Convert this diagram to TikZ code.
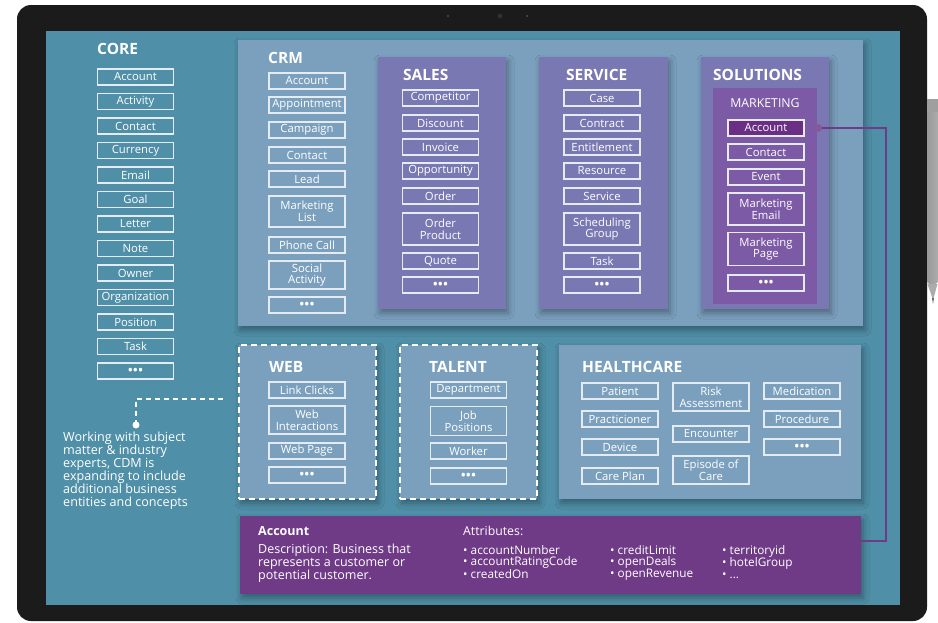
\documentclass[tikz,border=0pt]{standalone}
\usepackage{fontspec}
\setmainfont{Open Sans}
\usetikzlibrary{shadows.blur}
\definecolor{bezel}{HTML}{1B1B1B}
\definecolor{screen}{HTML}{4F8FA7}
\definecolor{panelblue}{HTML}{7BA0BE}
\definecolor{panelpurple}{HTML}{7A78B2}
\definecolor{mktpurple}{HTML}{7C5AA6}
\definecolor{acchl}{HTML}{6A2E84}
\definecolor{accpanel}{HTML}{6F3B87}
\definecolor{connline}{HTML}{6E3B8B}
\definecolor{boxline}{HTML}{E4EBF2}
\newcommand{\mydots}{{\fontsize{12}{12}\selectfont\bfseries •\hspace{0.6pt}•\hspace{0.6pt}•}}
\begin{document}
\begin{tikzpicture}[x=1pt,y=-1pt,
  ebox/.style={draw=boxline, line width=1.1pt, text=white, minimum width=76pt, minimum height=16pt,
    inner sep=0pt, align=center, font=\fontsize{11.3}{11.8}\selectfont},
  ttl/.style={anchor=west, text=white, inner sep=0pt, font=\bfseries\fontsize{15.5}{15.5}\selectfont},
  shd/.style={blur shadow={shadow xshift=2pt, shadow yshift=-4pt, shadow blur radius=6pt, shadow opacity=35}},
  panelL/.style={fill=panelblue, inner sep=0pt, shd},
  panelP/.style={fill=panelpurple, inner sep=0pt, shd},
  paneldash/.style={fill=panelblue, draw=white, line width=1.5pt, dash pattern=on 6pt off 4pt, inner sep=0pt, shd},
  conn/.style={draw=connline, line width=1.3pt},
  txt/.style={text=white, inner sep=0pt, align=left},
]
\useasboundingbox (0,0) rectangle (938,622);
\fill[white] (0,0) rectangle (938,622);
% device
\fill[bezel, rounded corners=14pt] (17,5) rectangle (927,621);
\fill[black!70] (448,16) circle (1.2pt);
\fill[black!80] (500,16) circle (2.2pt);
\fill[black!65] (527,16) circle (1pt);
\fill[screen] (46,31) rectangle (900,605);
% pen
\shade[left color=gray!80, middle color=gray!35, right color=gray!65, rounded corners=3pt] (927,99) rectangle (938,284);
\fill[gray!75] (927,99) rectangle (938,112);
\fill[gray!65] (927.5,284) -- (937.5,284) -- (933,300) -- cycle;
\fill[black!60] (932,298) -- (934,298) -- (933,304) -- cycle;

% CORE
\node[ttl] (coreT) at (97,49) {CORE};
\foreach \t [count=\i] in {Account,Activity,Contact,Currency,Email,Goal,Letter,Note,Owner,Organization,Position,Task,\mydots}
  \node[ebox] (core\i) at (135.5,{77+24.5*(\i-1)}) {\t};

% CRM panel
\node[panelL, minimum width=625pt, minimum height=286pt] (crm) at (550.5,183) {};
\node[ttl] (crmT) at (268,58) {CRM};
\foreach \t/\y/\h [count=\i] in {Account/81/16,Appointment/105/16,Campaign/130/16,Contact/155/16,Lead/179/16,{Marketing\\List}/211.5/31,{Phone Call}/245/16,{Social\\Activity}/275/28,\mydots/305/16}
  \node[ebox, minimum height=\h pt] (crmb\i) at (307,\y) {\t};

% SALES
\node[panelP, minimum width=128pt, minimum height=252pt] (sales) at (442,183) {};
\node[ttl] (salesT) at (403,75) {SALES};
\foreach \t/\y/\h [count=\i] in {Competitor/98/16,Discount/123/16,Invoice/147/16,Opportunity/171/16,Order/196/16,{Order\\Product}/229/32,Quote/261/16,\mydots/285/16}
  \node[ebox, minimum height=\h pt] (salesb\i) at (440.5,\y) {\t};

% SERVICE
\node[panelP, minimum width=129pt, minimum height=252pt] (service) at (603.5,183) {};
\node[ttl] (serviceT) at (566,75) {SERVICE};
\foreach \t/\y/\h [count=\i] in {Case/98/16,Contract/123/16,Entitlement/147/16,Resource/171/16,Service/196/16,{Scheduling\\Group}/229/32,Task/261/16,\mydots/285/16}
  \node[ebox, minimum height=\h pt] (serviceb\i) at (602,\y) {\t};

% SOLUTIONS
\node[panelP, minimum width=128pt, minimum height=252pt] (solutions) at (765,183) {};
\node[ttl] (solutionsT) at (713,75) {SOLUTIONS};
\node[fill=mktpurple, inner sep=0pt, minimum width=104pt, minimum height=216pt] (marketing) at (765,196) {};
\node[txt, font=\fontsize{12.3}{12.3}\selectfont] (marketingT) at (765,103) {MARKETING};
\node[ebox, fill=acchl] (mktb1) at (766,128) {Account};
\foreach \t/\y/\h [count=\i from 2] in {Contact/152/16,Event/177/16,{Marketing\\Email}/209/32,{Marketing\\Page}/249/33,\mydots/283/16}
  \node[ebox, minimum height=\h pt] (mktb\i) at (766,\y) {\t};

% WEB
\node[paneldash, minimum width=137pt, minimum height=154pt] (web) at (307.5,422) {};
\node[ttl] (webT) at (269,367) {WEB};
\foreach \t/\y/\h [count=\i] in {{Link Clicks}/390/16,{Web\\Interactions}/420/28,{Web Page}/451/16,\mydots/475/16}
  \node[ebox, minimum height=\h pt] (webb\i) at (307,\y) {\t};

% TALENT
\node[paneldash, minimum width=137pt, minimum height=154pt] (talent) at (468.5,422) {};
\node[ttl] (talentT) at (429,367) {TALENT};
\foreach \t/\y/\h [count=\i] in {Department/390/16,{Job\\Positions}/421/29,Worker/451/16,\mydots/476/16}
  \node[ebox, minimum height=\h pt] (talentb\i) at (468.5,\y) {\t};

% HEALTHCARE
\node[panelL, minimum width=302pt, minimum height=154pt] (health) at (710,422) {};
\node[ttl] (healthT) at (582,367) {HEALTHCARE};
\foreach \t/\y/\h [count=\i] in {Patient/391/16,Practicioner/419/16,Device/447/16,{Care Plan}/476/16}
  \node[ebox, minimum height=\h pt] (hca\i) at (620,\y) {\t};
\foreach \t/\y/\h [count=\i] in {{Risk\\Assessment}/397/28,Encounter/434/16,{Episode of\\Care}/470/28}
  \node[ebox, minimum height=\h pt] (hcb\i) at (711,\y) {\t};
\foreach \t/\y/\h [count=\i] in {Medication/391/16,Procedure/419/16,\mydots/447/16}
  \node[ebox, minimum height=\h pt] (hcc\i) at (802,\y) {\t};

% Account detail panel
\node[fill=accpanel, inner sep=0pt, minimum width=621pt, minimum height=78pt, shd] (acct) at (550.5,555) {};
\node[txt, anchor=west, font=\bfseries\fontsize{12.5}{12.5}\selectfont] (acctT) at (258,531) {Account};
\node[txt, anchor=west, font=\fontsize{12.3}{12.3}\selectfont] (attrT) at (463,531) {Attributes:};
\node[txt, anchor=north west, font=\fontsize{12.5}{13}\selectfont] (desc) at (258,543.5) {Description: Business that\\represents a customer or\\potential customer.};
\node[txt, anchor=north west, font=\fontsize{11.8}{11.7}\selectfont] (attr1) at (463,545) {• accountNumber\\• accountRatingCode\\• createdOn};
\node[txt, anchor=north west, font=\fontsize{11.8}{11.7}\selectfont] (attr2) at (610,545) {• creditLimit\\• openDeals\\• openRevenue};
\node[txt, anchor=north west, font=\fontsize{11.8}{11.7}\selectfont] (attr3) at (722,545) {• territoryid\\• hotelGroup\\• ...};

% connector from marketing account to detail panel
\coordinate (cdot) at (818,128);
\coordinate (cbend) at (886,541);
\draw[conn] (cdot) -| (cbend) -- (acct.east |- cbend);
\fill[connline!85!white] (cdot) circle (4pt);

% note
\coordinate (wstart) at (223,399);
\coordinate (wdot) at (136,425);
\draw[white, line width=1.5pt, dash pattern=on 5pt off 4pt] (wstart) -| (wdot);
\fill[white] (wdot) circle (3.5pt);
\node[txt, anchor=north west, font=\fontsize{12.6}{13}\selectfont] (note) at (63,432) {Working with subject\\matter \& industry\\experts, CDM is\\expanding to include\\additional business\\entities and concepts};
\end{tikzpicture}
\end{document}
